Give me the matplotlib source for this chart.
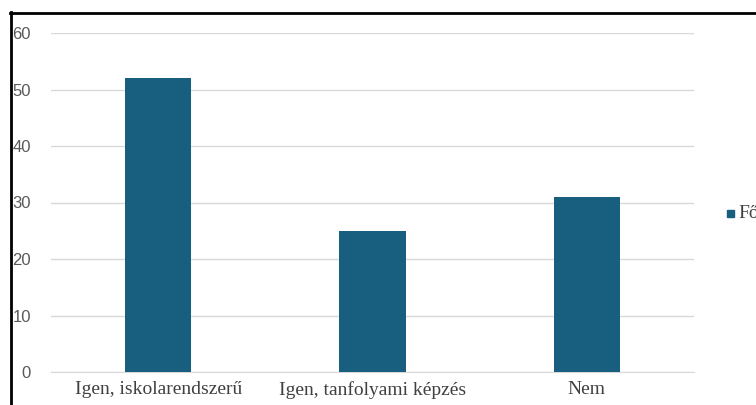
import matplotlib.pyplot as plt
from matplotlib.lines import Line2D
from matplotlib.patches import Rectangle

plt.rcParams["font.family"] = ["Liberation Serif", "DejaVu Serif"]

categories = ["Igen, iskolarendszerű", "Igen, tanfolyami képzés", "Nem"]
values = [52, 25, 31]
legend_label = "Fő"
bar_color = "#175e7f"

W, H = 756, 405
fig = plt.figure(figsize=(W / 100, H / 100), dpi=100)
fig.patch.set_facecolor("white")

ax = fig.add_axes([51 / W, 33 / H, 643 / W, 339 / H])
x = range(len(categories))
ax.bar(x, values, width=0.31, color=bar_color, zorder=3)

ax.set_xlim(-0.5, len(categories) - 0.5)
ax.set_ylim(0, 60)
ax.set_yticks(range(0, 61, 10))
ax.set_xticks(list(x))
ax.set_xticklabels(categories)

ax.grid(axis="y", color="#d9d9d9", linewidth=1, zorder=0)
ax.tick_params(axis="both", length=0)
ax.tick_params(axis="y", pad=14.5, labelsize=12, labelcolor="#595959")
ax.tick_params(axis="x", pad=6.5, labelsize=14, labelcolor="#404040")
for side in ["top", "right", "left"]:
    ax.spines[side].set_visible(False)
ax.spines["bottom"].set_color("#d9d9d9")
ax.spines["bottom"].set_zorder(1)

# y axis numbers in sans
for lbl in ax.get_yticklabels():
    lbl.set_family("Liberation Sans")

# legend entry, runs off the right edge
fig.add_artist(Rectangle((727 / W, (H - 217) / H), 7 / W, 7 / H,
                         transform=fig.transFigure, color=bar_color))
fig.text(738 / W, (H - 213) / H, legend_label, fontsize=14,
         color="#404040", va="center", ha="left")

# outer frame of the chart box
fig.add_artist(Line2D([10 / W, 1], [(H - 12.5) / H] * 2, color="black",
                      linewidth=2, transform=fig.transFigure))
fig.add_artist(Line2D([10.5 / W] * 2, [0, (H - 12) / H], color="black",
                      linewidth=2, transform=fig.transFigure))

fig.savefig("out.png", dpi=100)
